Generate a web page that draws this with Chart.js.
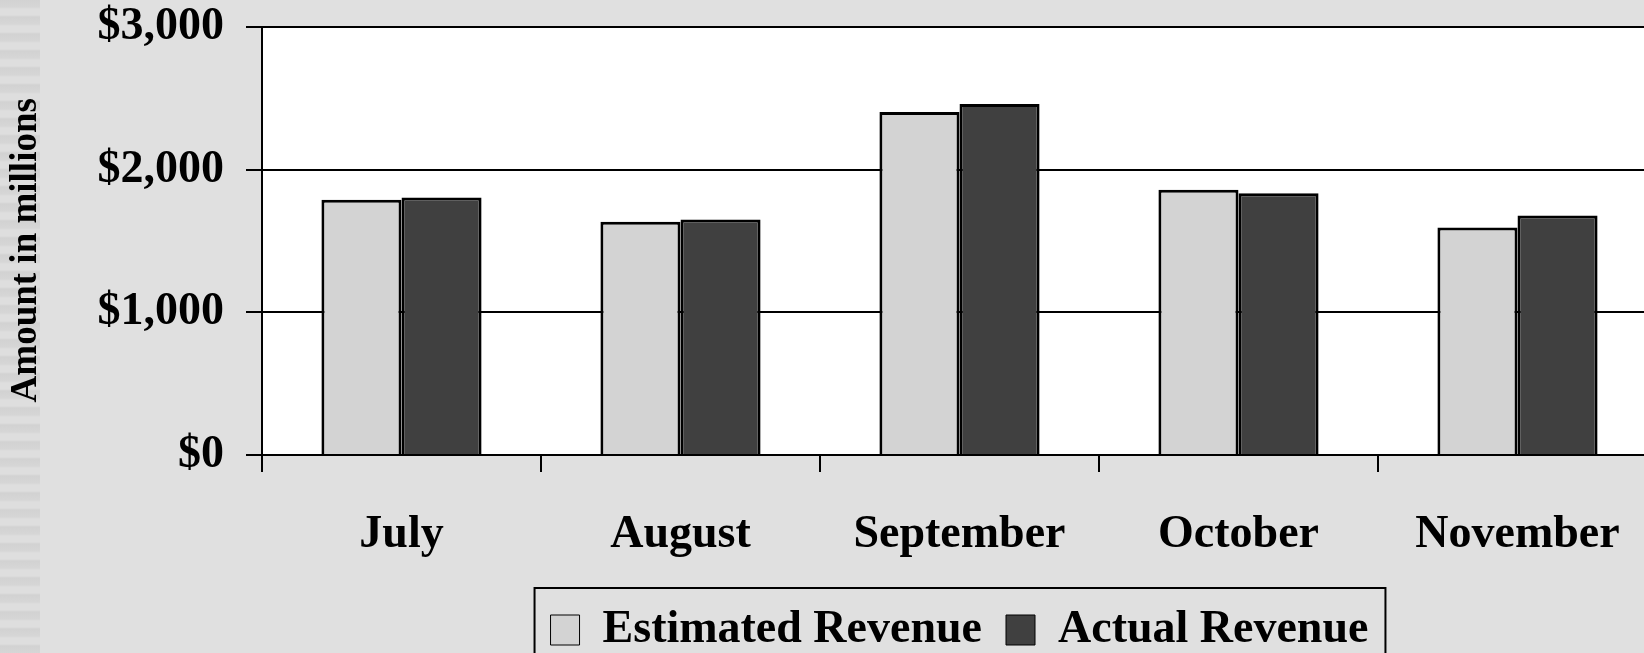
<!DOCTYPE html>
<html>
<head>
<meta charset="utf-8">
<title>Estimated vs Actual Revenue</title>
<script src="https://cdn.jsdelivr.net/npm/chart.js@4/dist/chart.umd.min.js"></script>
<style>
    html, body {
        margin: 0;
        padding: 0;
        width: 1644px;
        height: 653px;
        overflow: hidden;
        background:
            repeating-linear-gradient(to bottom, #d2d2d2 0px, #d6d6d6 7px, #dedede 9px, #dedede 15px, #d2d2d2 17px) left top / 40px 100% no-repeat,
            #e0e0e0;
    }
    .chart-wrap {
        position: absolute;
        left: 0;
        top: 0;
        width: 1660px;
        height: 663px;
    }
</style>
</head>
<body>
<div class="chart-wrap">
    <canvas id="revenueChart" width="1660" height="663"></canvas>
</div>
<script>
// Chart data (amounts in millions)
const months = ['July', 'August', 'September', 'October', 'November'];
const estimatedRevenue = [1790, 1635, 2405, 1860, 1595];
const actualRevenue = [1805, 1650, 2460, 1835, 1678];
const yTicks = [0, 1000, 2000, 3000];

const FONT = "'Liberation Serif', 'Times New Roman', serif";

// White plot background
const plotBackground = {
    id: 'plotBackground',
    beforeDraw(chart) {
        const { ctx, chartArea } = chart;
        ctx.save();
        ctx.fillStyle = '#ffffff';
        ctx.fillRect(chartArea.left, chartArea.top, chartArea.right - chartArea.left, chartArea.bottom - chartArea.top);
        ctx.restore();
    }
};

// Frame around the legend
const legendFrame = {
    id: 'legendFrame',
    afterDraw(chart) {
        const boxes = chart.legend && chart.legend.legendHitBoxes;
        if (!boxes || !boxes.length) {
            return;
        }
        const first = boxes[0];
        const last = boxes[boxes.length - 1];
        const left = first.left - 16;
        const right = last.left + last.width + 17;
        const top = first.top - 19;
        const ctx = chart.ctx;
        ctx.save();
        ctx.strokeStyle = '#000000';
        ctx.lineWidth = 2;
        ctx.strokeRect(left, top, right - left, chart.height - top + 20);
        ctx.restore();
    }
};

new Chart(document.getElementById('revenueChart'), {
    type: 'bar',
    data: {
        labels: months,
        datasets: [{
            label: 'Estimated Revenue',
            data: estimatedRevenue,
            backgroundColor: '#d3d3d3',
            borderColor: '#000000',
            borderWidth: 3,
            categoryPercentage: 0.574,
            barPercentage: 1.0
        }, {
            label: 'Actual Revenue',
            data: actualRevenue,
            backgroundColor: '#404040',
            borderColor: '#000000',
            borderWidth: 3,
            categoryPercentage: 0.574,
            barPercentage: 1.0
        }]
    },
    options: {
        responsive: false,
        animation: false,
        layout: {
            padding: { top: 27, right: 3, bottom: 0, left: 0 }
        },
        plugins: {
            tooltip: { enabled: false },
            legend: {
                position: 'bottom',
                fullSize: false,
                labels: {
                    color: '#000000',
                    boxWidth: 29,
                    boxHeight: 30,
                    padding: 24,
                    font: { family: FONT, size: 46, weight: 'bold' },
                    generateLabels(chart) {
                        return chart.data.datasets.map((ds, i) => ({
                            text: ds.label,
                            fillStyle: ds.backgroundColor,
                            strokeStyle: '#000000',
                            lineWidth: 1,
                            datasetIndex: i,
                            fontColor: '#000000'
                        }));
                    }
                }
            }
        },
        scales: {
            x: {
                grid: {
                    display: true,
                    drawOnChartArea: false,
                    drawTicks: true,
                    tickLength: 17,
                    color: '#000000',
                    lineWidth: 2
                },
                border: { display: true, color: '#000000', width: 2 },
                ticks: {
                    color: '#000000',
                    padding: 38,
                    maxRotation: 0,
                    font: { family: FONT, size: 46, weight: 'bold', lineHeight: 1.1 }
                },
                afterFit(scale) {
                    scale.height = 128;
                }
            },
            y: {
                min: 0,
                max: 3000,
                afterBuildTicks(scale) {
                    scale.ticks = yTicks.map(v => ({ value: v }));
                },
                grid: {
                    color: '#000000',
                    lineWidth: 2,
                    tickLength: 16
                },
                border: { display: true, color: '#000000', width: 2 },
                ticks: {
                    color: '#000000',
                    padding: 22,
                    // small line height so the top label does not push the plot down
                    font: { family: FONT, size: 46, weight: 'bold', lineHeight: 0.1 },
                    callback: function(value) {
                        return '$' + Number(value).toLocaleString('en-US');
                    }
                },
                title: {
                    display: true,
                    text: 'Amount in millions  ',
                    color: '#000000',
                    padding: { top: 4, bottom: 0 },
                    font: { family: FONT, size: 37, weight: 'bold', lineHeight: 1.2 }
                },
                afterFit(scale) {
                    scale.width = 262;
                }
            }
        }
    },
    plugins: [plotBackground, legendFrame]
});
</script>
</body>
</html>
